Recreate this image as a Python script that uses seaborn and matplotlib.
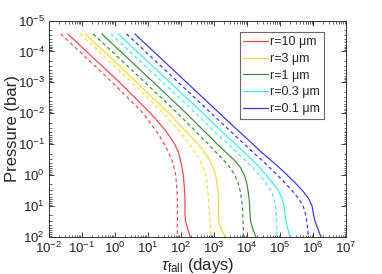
import numpy as np
import pandas as pd
import matplotlib
matplotlib.use("Agg")
import matplotlib.pyplot as plt
import seaborn as sns
from matplotlib.ticker import LogLocator, NullFormatter

# Pressure grid (bar)
pressure = [2.7e-5, 1e-4, 1e-3, 1e-2, 0.0316, 0.0562, 0.1, 0.178, 0.316, 0.562,
            1.0, 1.78, 3.16, 5.62, 10.0, 17.8, 31.6, 56.2, 100.0]

radii_labels = ["r=10 \u03bcm", "r=3 \u03bcm", "r=1 \u03bcm", "r=0.3 \u03bcm", "r=0.1 \u03bcm"]

# log10 of fall time (days)
r10_solid = [-1.43, -0.86, 0.14, 1.08, 1.49, 1.66, 1.81, 1.92, 1.98, 2.03, 2.07, 2.09, 2.11, 2.12, 2.12, 2.12, 2.14, 2.21, 2.28]
r10_dash  = [-1.64, -1.07, -0.08, 0.86, 1.20, 1.36, 1.50, 1.62, 1.72, 1.79, 1.84, 1.86, 1.88, 1.89, 1.89, 1.89, 1.89, 1.89, 1.90]
r3_solid  = [-0.90, -0.33, 0.66, 1.64, 2.07, 2.31, 2.52, 2.70, 2.86, 2.97, 3.05, 3.09, 3.12, 3.13, 3.13, 3.13, 3.14, 3.22, 3.35]
r3_dash   = [-1.05, -0.48, 0.51, 1.47, 1.89, 2.08, 2.26, 2.41, 2.56, 2.67, 2.75, 2.79, 2.81, 2.83, 2.84, 2.86, 2.88, 2.91, 2.93]
r1_solid  = [-0.40, 0.17, 1.17, 2.16, 2.63, 2.87, 3.10, 3.35, 3.60, 3.80, 3.92, 3.99, 4.03, 4.06, 4.08, 4.09, 4.11, 4.18, 4.27]
r1_dash   = [-0.66, -0.09, 0.91, 1.90, 2.37, 2.60, 2.83, 3.05, 3.28, 3.48, 3.63, 3.73, 3.79, 3.83, 3.86, 3.87, 3.88, 3.89, 3.89]
r03_solid = [0.10, 0.67, 1.67, 2.67, 3.15, 3.40, 3.65, 3.90, 4.15, 4.38, 4.58, 4.78, 4.95, 5.06, 5.12, 5.15, 5.18, 5.24, 5.30]
r03_dash  = [-0.12, 0.45, 1.45, 2.45, 2.93, 3.18, 3.43, 3.68, 3.93, 4.17, 4.38, 4.57, 4.72, 4.82, 4.86, 4.88, 4.89, 4.90, 4.90]
r01_solid = [0.60, 1.17, 2.17, 3.17, 3.67, 3.93, 4.18, 4.43, 4.70, 4.97, 5.22, 5.46, 5.68, 5.86, 5.97, 6.01, 6.06, 6.15, 6.24]
r01_dash  = [0.35, 0.92, 1.92, 2.92, 3.42, 3.67, 3.92, 4.17, 4.43, 4.68, 4.92, 5.15, 5.36, 5.56, 5.70, 5.77, 5.81, 5.84, 5.86]

colors = ["#ff4040", "#ffd824", "#309030", "#30f0f0", "#3030ff"]

solid_sets = [r10_solid, r3_solid, r1_solid, r03_solid, r01_solid]
dash_sets = [r10_dash, r3_dash, r1_dash, r03_dash, r01_dash]

sns.set_style("ticks")
plt.rcParams["font.family"] = ["Liberation Sans", "DejaVu Sans"]
plt.rcParams["mathtext.fontset"] = "custom"
plt.rcParams["mathtext.rm"] = "Liberation Sans"
plt.rcParams["mathtext.it"] = "Liberation Sans:italic"

fig = plt.figure(figsize=(3.82, 2.74), dpi=100)
ax = fig.add_axes([0.128, 0.135, 0.778, 0.79])

for lab, col, s, d in zip(radii_labels, colors, solid_sets, dash_sets):
    df_s = pd.DataFrame({"tau": np.power(10.0, s), "P": pressure})
    df_d = pd.DataFrame({"tau": np.power(10.0, d), "P": pressure})
    sns.lineplot(data=df_s, x="tau", y="P", sort=False, estimator=None, color=col,
                 lw=0.85, ax=ax, label=lab)
    sns.lineplot(data=df_d, x="tau", y="P", sort=False, estimator=None, color=col,
                 lw=0.85, ax=ax, linestyle=(0, (3.0, 2.5)), label=None)

ax.set_xscale("log")
ax.set_yscale("log")
ax.set_xlim(1e-2, 1e7)
ax.set_ylim(1e2, 1e-5)

ax.xaxis.set_major_locator(LogLocator(base=10, numticks=20))
ax.yaxis.set_major_locator(LogLocator(base=10, numticks=20))
ax.xaxis.set_minor_locator(LogLocator(base=10, subs=np.arange(2, 10), numticks=20))
ax.yaxis.set_minor_locator(LogLocator(base=10, subs=np.arange(2, 10), numticks=20))
ax.xaxis.set_minor_formatter(NullFormatter())
ax.yaxis.set_minor_formatter(NullFormatter())

ax.tick_params(which="both", direction="in", top=True, right=True, labelsize=9.5, colors="#222222")
ax.tick_params(which="major", length=3.5, width=0.6)
ax.tick_params(which="minor", length=1.8, width=0.5)
ax.tick_params(axis="x", pad=3)
ax.tick_params(axis="y", pad=3)
for sp in ax.spines.values():
    sp.set_linewidth(0.7)
    sp.set_color("#333333")

ax.set_xlabel(r"$\tau_{\mathrm{fall}}$ (days)", fontsize=12, labelpad=0)
ax.set_ylabel("Pressure (bar)", fontsize=12, labelpad=-2)

handles, labels = ax.get_legend_handles_labels()
leg = ax.legend(handles[:5], labels[:5], loc="upper right", bbox_to_anchor=(0.925, 0.945),
                fontsize=9, frameon=True, fancybox=False, edgecolor="#444444",
                handlelength=2.0, handletextpad=0.15, borderpad=0.3, labelspacing=0.38,
                borderaxespad=0.0)
leg.get_frame().set_linewidth(0.8)

fig.savefig("out.png", dpi=100)
